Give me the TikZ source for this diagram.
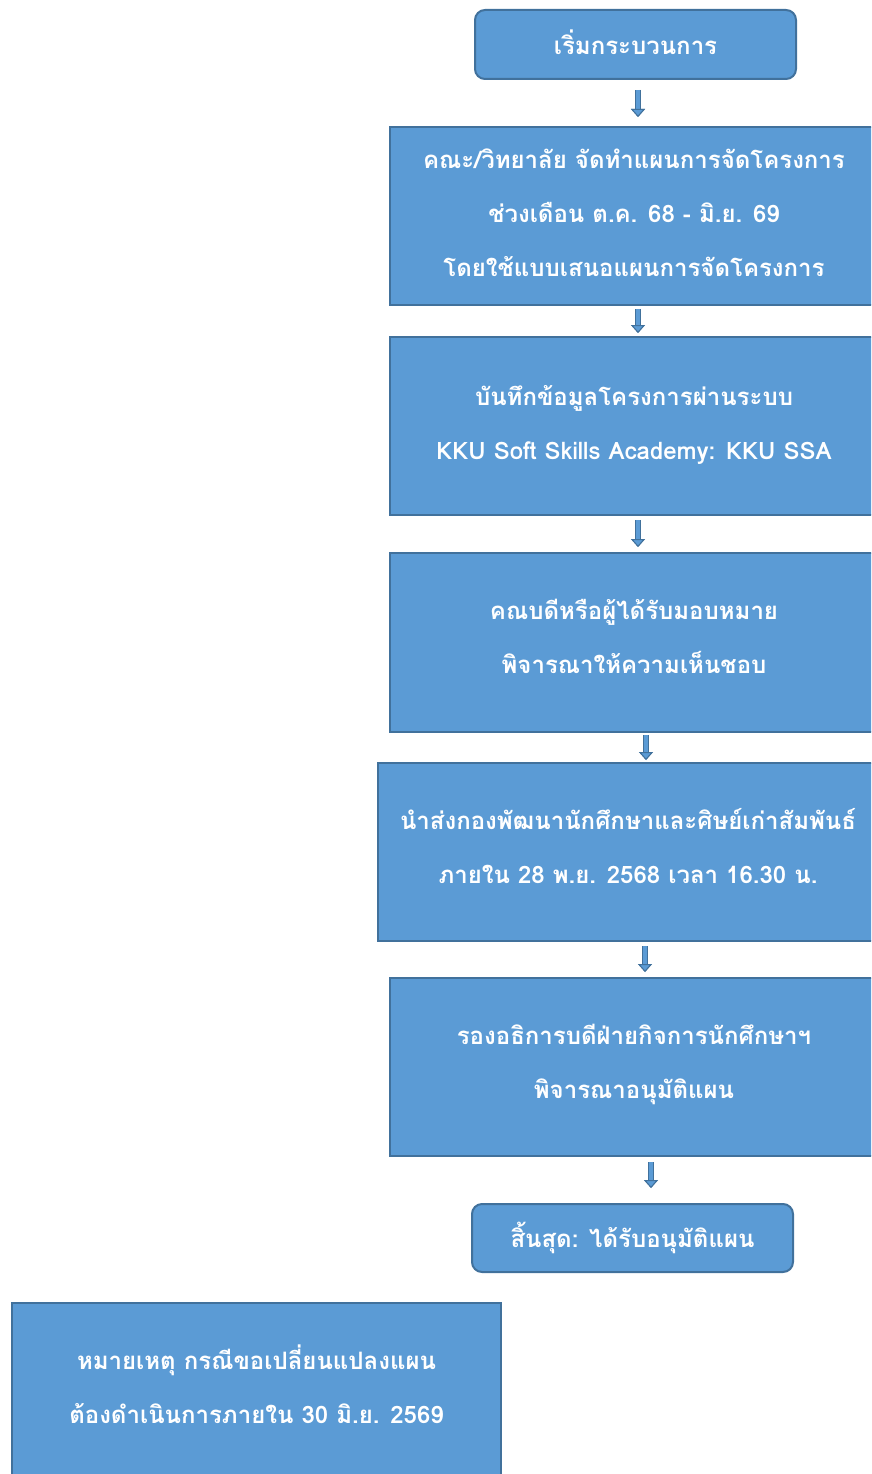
\documentclass[tikz,border=0pt]{standalone}
\usepackage{fontspec}
\newfontfamily\thai[Script=Thai]{Loma}
\usetikzlibrary{arrows.meta}
\definecolor{boxfill}{HTML}{5B9BD5}
\definecolor{boxedge}{HTML}{41719C}
\newcommand\lowstrut[1]{\rule[-#1]{0pt}{0pt}}
\tikzset{
  base/.style={draw=boxedge, line width=2pt, fill=boxfill, text=white, align=center, anchor=north west, inner sep=0pt,
    font=\thai\bfseries\fontsize{24}{54}\selectfont},
  sqbox/.style={base},
  rbox/.style={base, rounded corners=10pt},
  blk/.style={draw=boxfill, line width=3.6pt,
    -{Triangle[width=14pt,length=8pt,fill=boxfill,color=boxedge,line width=1pt]},
    preaction={draw=boxedge, line width=6pt}}
}
\begin{document}
\begin{tikzpicture}[x=1pt,y=1pt]
\useasboundingbox (0,0) rectangle (871,-1474);
\begin{scope}
\clip (0,0) rectangle (871,-1474);
\node[rbox, minimum width=321pt, minimum height=69pt] (b1) at (474,-9) {เริ่มกระบวนการ\lowstrut{4pt}};
\node[sqbox, minimum width=488pt, minimum height=178pt] (b2) at (389,-126) {คณะ/วิทยาลัย จัดทำแผนการจัดโครงการ\\ช่วงเดือน ต.ค. 68 - มิ.ย. 69\\โดยใช้แบบเสนอแผนการจัดโครงการ\lowstrut{7pt}};
\node[sqbox, minimum width=488pt, minimum height=178pt] (b3) at (389,-336) {บันทึกข้อมูลโครงการผ่านระบบ\\KKU Soft Skills Academy: KKU SSA\lowstrut{8pt}};
\node[sqbox, minimum width=488pt, minimum height=179pt] (b4) at (389,-552) {คณบดีหรือผู้ได้รับมอบหมาย\\พิจารณาให้ความเห็นชอบ\lowstrut{12pt}};
\node[sqbox, minimum width=500pt, minimum height=178pt] (b5) at (377,-762) {นำส่งกองพัฒนานักศึกษาและศิษย์เก่าสัมพันธ์\\ภายใน 28 พ.ย. 2568 เวลา 16.30 น.\lowstrut{13pt}};
\node[sqbox, minimum width=488pt, minimum height=178pt] (b6) at (389,-977) {รองอธิการบดีฝ่ายกิจการนักศึกษาฯ\\พิจารณาอนุมัติแผน\lowstrut{11pt}};
\node[rbox, minimum width=321pt, minimum height=68pt] (b7) at (471,-1203) {สิ้นสุด: ได้รับอนุมัติแผน};
\node[sqbox, minimum width=489pt, minimum height=178pt] (note) at (11,-1302) {หมายเหตุ กรณีขอเปลี่ยนแปลงแผน\\ต้องดำเนินการภายใน 30 มิ.ย. 2569\lowstrut{15pt}};
\draw[blk] ([xshift=2.5pt,yshift=-10pt]b1.south) -- ([xshift=4pt,yshift=9pt]b2.north);
\draw[blk] ([xshift=4pt,yshift=-3pt]b2.south) -- ([xshift=4pt,yshift=3pt]b3.north);
\draw[blk] ([xshift=4pt,yshift=-4pt]b3.south) -- ([xshift=4pt,yshift=5pt]b4.north);
\draw[blk] ([xshift=12pt,yshift=-2pt]b4.south) -- ([xshift=18pt,yshift=2pt]b5.north);
\draw[blk] ([xshift=17pt,yshift=-4pt]b5.south) -- ([xshift=11pt,yshift=5pt]b6.north);
\draw[blk] ([xshift=17pt,yshift=-5pt]b6.south) -- ([xshift=18.5pt,yshift=15pt]b7.north);
\end{scope}
\end{tikzpicture}
\end{document}
